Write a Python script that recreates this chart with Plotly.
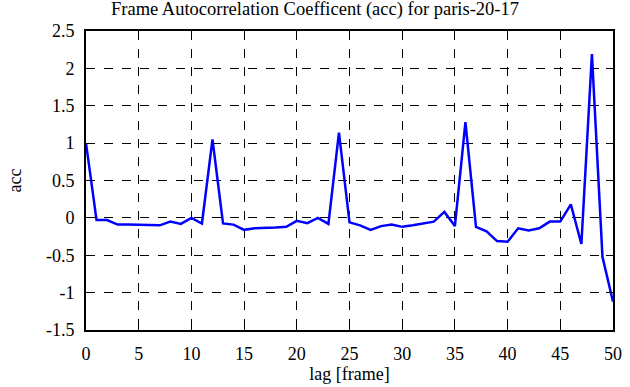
import plotly.graph_objects as go

lags = list(range(51))
acc = [1.0, -0.03, -0.03, -0.09, -0.09, -0.09, -0.10, -0.10, -0.05, -0.08,
       0.0, -0.075, 1.05, -0.075, -0.09, -0.16, -0.14, -0.13, -0.13, -0.12,
       -0.04, -0.07, 0.0, -0.08, 1.14, -0.06, -0.10, -0.16, -0.11, -0.09,
       -0.12, -0.10, -0.075, -0.05, 0.08, -0.11, 1.28, -0.12, -0.18, -0.31,
       -0.32, -0.14, -0.17, -0.14, -0.05, -0.05, 0.18, -0.35, 2.19, -0.52,
       -1.12]

xticks = list(range(0, 51, 5))
yticks = [-1.5, -1, -0.5, 0, 0.5, 1, 1.5, 2, 2.5]
yticklabels = ["-1.5", "-1", "-0.5", "0", "0.5", "1", "1.5", "2", "2.5"]

title = "Frame Autocorrelation Coefficent (acc) for paris-20-17"
xlabel = "lag [frame]"
ylabel = "acc"

FAM = "Liberation Serif"
font = dict(family=FAM, size=18, color="black")

fig = go.Figure()
fig.add_trace(go.Scatter(x=lags, y=acc, mode="lines",
                         line=dict(color="#0000ff", width=2.5)))

axis_common = dict(showline=True, linecolor="black", linewidth=2, mirror="allticks",
                   ticks="inside", ticklen=7, tickcolor="black", tickwidth=1,
                   showgrid=True, gridcolor="black", griddash="dash", gridwidth=1,
                   zeroline=False,
                   automargin=False, ticklabelstandoff=6)

fig.update_layout(
    width=630, height=387,
    margin=dict(l=86, r=17, t=31, b=57),
    paper_bgcolor="white", plot_bgcolor="white",
    showlegend=False,
    font=font,
    title=dict(text=title, x=0.5, xanchor="center", y=0.995, yanchor="top",
               font=dict(family=FAM, size=18.5, color="black")),
    xaxis=dict(range=[0, 50], tickvals=xticks,
               title=dict(text=xlabel, standoff=2, font=font), **axis_common),
    yaxis=dict(range=[-1.5, 2.5], tickvals=yticks, ticktext=yticklabels,
               title=dict(text=ylabel, standoff=20, font=font), **axis_common),
)
fig.update_xaxes(tickfont_family=FAM, tickfont_size=18, tickfont_color="black")
fig.update_yaxes(tickfont_family=FAM, tickfont_size=18, tickfont_color="black")

fig.write_html("out.html", config={"displayModeBar": False},
               post_script="document.body.style.margin='0';document.body.style.overflow='hidden';")
